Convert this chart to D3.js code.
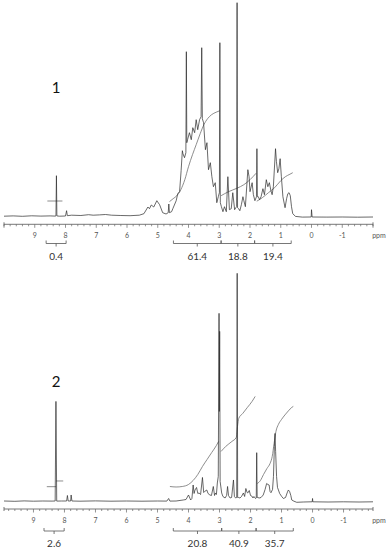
<!DOCTYPE html>
<html>
<head>
<meta charset="utf-8">
<script src="https://cdn.jsdelivr.net/npm/d3@7"></script>
<style>
  body { margin: 0; background: #fff; }
  svg { display: block; }
  .tick-label { font-family: Lato, "Open Sans", sans-serif; font-size: 7px; fill: #555; }
  .area-label { font-family: Lato, "Open Sans", sans-serif; font-size: 10px; fill: #333; }
  .panel-label { font-family: Lato, "Open Sans", sans-serif; font-size: 15px; fill: #111; }
</style>
</head>
<body>
<div id="chart"></div>
<script>
// spectrum 1: [ppm, intensity]
const spectrum1 = [
  [10.0,0.5],[9.7,0.8],[9.4,0.4],[9.1,0.9],[8.8,0.6],[8.5,0.8],[8.34,0.6],[8.31,0.8],[8.295,41],[8.28,0.8],
  [8.2,0.5],[8.0,0.7],[7.965,6],[7.94,1],[7.8,1.5],[7.5,1.2],[7.25,2],[7.1,1.5],[6.9,1.8],[6.7,2.2],
  [6.5,1.5],[6.2,1.2],[5.9,1.0],[5.6,1.5],[5.45,3],[5.32,9.7],[5.27,8],[5.21,11.7],[5.13,9.7],[5.03,16],
  [4.94,12],[4.84,4],[4.73,2.7],[4.66,4],[4.64,12.7],[4.62,4],[4.55,5],[4.51,8],[4.40,16],[4.35,23],
  [4.29,25],[4.24,46],[4.20,66],[4.18,63],[4.13,59],[4.085,64],[4.07,165],[4.055,74],[4.03,77],[3.97,84],
  [3.91,77],[3.86,89],[3.80,84],[3.75,97],[3.70,87],[3.64,97],[3.59,100],[3.57,169],[3.55,98],[3.51,94],
  [3.45,67],[3.40,74],[3.35,47],[3.29,54],[3.24,40],[3.19,30],[3.13,34],[3.08,14],[3.03,20],[2.995,24],
  [2.98,174],[2.965,14],[2.93,10],[2.88,5],[2.83,10],[2.77,5],[2.72,40],[2.67,7],[2.61,8],[2.56,24],
  [2.50,7],[2.46,9],[2.435,10],[2.42,214],[2.405,9],[2.37,8],[2.33,6],[2.28,12],[2.23,20],[2.20,16],
  [2.15,10],[2.07,47],[2.03,40],[2.0,25],[1.93,34],[1.89,22],[1.84,16],[1.79,20],[1.775,68],[1.76,20],
  [1.73,20],[1.69,17],[1.64,20],[1.58,28],[1.53,22],[1.47,37],[1.42,30],[1.37,34],[1.32,26],[1.28,22],
  [1.24,30],[1.17,68],[1.14,55],[1.10,44],[1.06,48],[1.02,58],[0.98,40],[0.93,20],[0.86,9],[0.81,18],
  [0.77,23],[0.73,24],[0.69,21],[0.65,10],[0.61,3],[0.52,0.3],[0.3,-0.4],[0.05,-0.3],[0.01,-0.3],[0.0,7],
  [-0.02,-0.3],[-0.5,-0.4],[-1.0,-0.3],[-1.5,-0.5],[-2.0,-0.3]
];

// integral traces for spectrum 1
const integral1 = [
  [[8.59,15.7],[8.1,15.7]],
  [[4.62,15],[4.5,18],[4.38,21],[4.25,27],[4.12,37],[4.0,50],[3.87,62],[3.75,72],[3.62,83],[3.5,92],
   [3.38,98],[3.25,102],[3.1,104.5],[2.98,106]],
  [[2.94,21],[2.7,25],[2.42,28.5],[2.2,32],[2.0,37],[1.8,43.5]],
  [[1.78,15.5],[1.6,19],[1.4,24],[1.2,29],[1.0,36],[0.85,40],[0.7,42.5],[0.61,44]]
];

const regions1 = [[8.63,7.98],[4.49,2.94],[2.94,1.85],[1.85,0.66]];
const areas1 = ["0.4","61.4","18.8","19.4"];

// spectrum 2: [ppm, intensity]
const spectrum2 = [
  [9.95,0.5],[9.6,0.2],[9.3,0.6],[9.0,0.3],[8.7,0.5],[8.4,0.4],[8.3,0.5],[8.275,100],[8.25,0.4],[8.1,0.5],
  [7.93,0.5],[7.905,6],[7.88,0.5],[7.8,0.5],[7.785,6.5],[7.76,0.5],[7.5,0.3],[7.0,0.6],[6.5,0.3],[6.0,0.5],
  [5.5,0.3],[5.0,0.5],[4.7,0.4],[4.64,3],[4.6,0.4],[4.4,0.5],[4.17,1.5],[4.08,2],[4.0,6.5],[3.93,1.5],
  [3.89,3],[3.85,16.5],[3.82,8],[3.79,11.5],[3.74,14],[3.70,8],[3.66,8.5],[3.61,7],[3.55,24],[3.51,9],
  [3.48,10],[3.41,11.5],[3.37,8],[3.31,6.5],[3.26,6],[3.20,15],[3.16,6],[3.13,8.5],[3.10,7],[3.07,18.5],
  [3.04,25],[3.015,188],[3.005,90],[2.995,170],[2.98,20],[2.93,8.5],[2.89,5],[2.82,3.5],[2.77,6],[2.74,15],
  [2.71,6],[2.66,3.5],[2.61,4],[2.55,21.5],[2.52,5],[2.48,3.5],[2.445,4],[2.43,228],[2.415,4],[2.39,4],
  [2.34,3.5],[2.29,5],[2.23,8.5],[2.19,5],[2.15,13],[2.11,9],[2.09,8.5],[2.04,11],[2.00,6],[1.96,5.5],
  [1.92,3.5],[1.89,5],[1.84,3],[1.815,3.5],[1.80,48.8],[1.785,4],[1.77,4],[1.72,3.5],[1.66,4],[1.59,6.5],
  [1.53,12],[1.48,18],[1.44,17],[1.40,16.5],[1.37,10],[1.34,8.8],[1.29,12],[1.26,25],[1.23,55],[1.21,68],
  [1.19,50],[1.16,25],[1.13,14],[1.10,11.5],[1.06,8],[0.99,4.8],[0.94,3],[0.87,4],[0.82,8.5],[0.78,11.5],
  [0.74,10],[0.70,6],[0.67,1.5],[0.6,0.3],[0.51,-0.8],[0.3,-0.5],[0.05,-0.3],[0.01,-0.3],[0.0,3],[-0.01,-0.3],
  [-0.5,-0.5],[-1.0,-0.3],[-1.5,-0.5],[-1.95,-0.3]
];

const integral2 = [
  [[8.57,14.8],[8.27,14.8]],
  [[8.27,20.5],[8.04,20.5]],
  [[4.6,15],[4.4,14.5],[4.2,15],[4.0,17],[3.85,21],[3.7,27],[3.55,35],[3.4,42],[3.25,49],[3.1,56],[3.03,60]],
  [[2.95,50],[2.8,55],[2.6,60],[2.46,64],[2.42,75],[2.38,83],[2.25,88],[2.1,94],[1.95,100],[1.85,105]],
  [[1.78,18],[1.68,21],[1.58,27],[1.47,33],[1.37,38],[1.3,45],[1.24,58],[1.18,70],[1.1,77],[1.0,82],
   [0.89,86.5],[0.78,90.5],[0.67,94],[0.62,95]]
];

const regions2 = [[8.66,8.01],[4.49,2.93],[2.93,1.82],[1.82,0.62]];
const areas2 = ["2.6","20.8","40.9","35.7"];

const majorTicks = [9,8,7,6,5,4,3,2,1,0,-1];

const width = 386, height = 550;

const svg = d3.select('#chart').append('svg')
  .attr('width', width)
  .attr('height', height);

function drawPanel(p) {
  const g = svg.append('g');

  const x = d3.scaleLinear().domain(p.ppmDomain).range([4, 373]);
  const y = d3.scaleLinear().domain([0, p.hMax]).range([p.baseY, p.topY]);

  // integral curves
  const intLine = d3.line()
    .x(d => x(d[0]))
    .y(d => y(d[1]))
    .curve(d3.curveMonotoneX);
  p.integral.forEach(seg => {
    g.append('path')
      .attr('d', intLine(seg))
      .attr('fill', 'none')
      .attr('stroke', '#707070')
      .attr('stroke-width', 0.8);
  });

  // spectrum
  const specLine = d3.line()
    .x(d => x(d[0]))
    .y(d => y(d[1]));
  g.append('path')
    .attr('d', specLine(p.spectrum))
    .attr('fill', 'none')
    .attr('stroke', '#2a2a2a')
    .attr('stroke-width', 0.7)
    .attr('stroke-linejoin', 'round');

  // ppm axis
  const ax = g.append('g').attr('transform', `translate(0,${p.axisY})`);
  ax.append('line')
    .attr('x1', 4).attr('x2', 373)
    .attr('stroke', '#555').attr('stroke-width', 0.8);
  ax.selectAll('line.end')
    .data([4, 373])
    .join('line')
    .attr('class', 'end')
    .attr('x1', d => d).attr('x2', d => d)
    .attr('y1', -2).attr('y2', 2)
    .attr('stroke', '#555').attr('stroke-width', 0.8);
  // minor ticks every 0.2 ppm, longer on whole ppm
  const minor = d3.range(Math.ceil(p.ppmDomain[1] * 5), Math.floor(p.ppmDomain[0] * 5) + 1);
  ax.selectAll('line.minor')
    .data(minor)
    .join('line')
    .attr('class', 'minor')
    .attr('x1', d => x(d / 5)).attr('x2', d => x(d / 5))
    .attr('y1', 0).attr('y2', d => d % 5 === 0 ? 3.5 : 2)
    .attr('stroke', '#666').attr('stroke-width', 0.7);
  ax.selectAll('text')
    .data(majorTicks)
    .join('text')
    .attr('class', 'tick-label')
    .attr('x', d => x(d))
    .attr('y', p.tickLabelDy)
    .attr('text-anchor', 'middle')
    .text(d => d);
  ax.append('text')
    .attr('class', 'tick-label')
    .attr('x', 379)
    .attr('y', p.tickLabelDy)
    .attr('text-anchor', 'middle')
    .text('ppm');

  // integration brackets
  const br = g.append('g').attr('transform', `translate(0,${p.bracketY})`);
  p.regions.forEach((r, i) => {
    const x0 = x(r[0]), x1 = x(r[1]), xm = x((r[0] + r[1]) / 2);
    br.append('path')
      .attr('d', `M${x0},-3 L${x0},0 L${x1},0 L${x1},-3 M${xm},0 L${xm},3`)
      .attr('fill', 'none')
      .attr('stroke', '#555')
      .attr('stroke-width', 0.8);
    br.append('text')
      .attr('class', 'area-label')
      .attr('x', xm)
      .attr('y', p.areaLabelDy)
      .attr('text-anchor', 'middle')
      .text(p.areas[i]);
  });

  g.append('text')
    .attr('class', 'panel-label')
    .attr('x', 56)
    .attr('y', p.labelY)
    .attr('text-anchor', 'middle')
    .text(p.label);
}

drawPanel({
  spectrum: spectrum1, integral: integral1, regions: regions1, areas: areas1,
  ppmDomain: [10.0, -2.0], hMax: 214, baseY: 216.7, topY: 2.7,
  axisY: 224.3, tickLabelDy: 14, bracketY: 243.5, areaLabelDy: 16, labelY: 92.5, label: '1'
});

drawPanel({
  spectrum: spectrum2, integral: integral2, regions: regions2, areas: areas2,
  ppmDomain: [9.95, -1.95], hMax: 228, baseY: 501.5, topY: 273.3,
  axisY: 509, tickLabelDy: 14, bracketY: 531, areaLabelDy: 16, labelY: 387, label: '2'
});
</script>
</body>
</html>
